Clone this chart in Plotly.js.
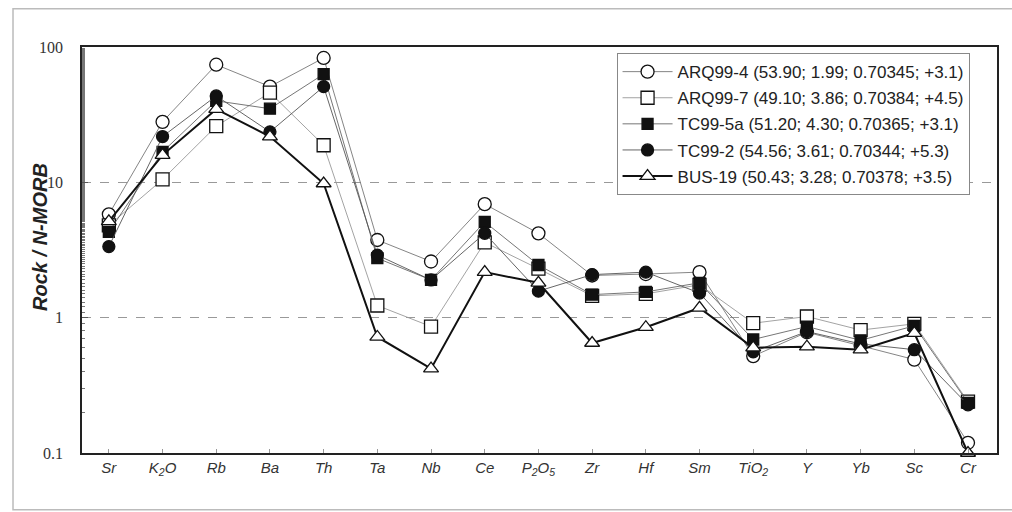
<!DOCTYPE html>
<html><head><meta charset="utf-8">
<script src="https://cdn.plot.ly/plotly-3.0.1.min.js"></script>
<style>html,body{margin:0;padding:0;background:#fff}#chart{width:1012px;height:512px}</style>
</head><body><div id="chart"></div>
<script>
const categories = ['Sr','K2O','Rb','Ba','Th','Ta','Nb','Ce','P2O5','Zr','Hf','Sm','TiO2','Y','Yb','Sc','Cr'];
const tickLabels = ['Sr','K<sub>2</sub>O','Rb','Ba','Th','Ta','Nb','Ce','P<sub>2</sub>O<sub>5</sub>','Zr','Hf','Sm','TiO<sub>2</sub>','Y','Yb','Sc','Cr'];
const seriesNames = [
  'ARQ99-4 (53.90; 1.99; 0.70345; +3.1)',
  'ARQ99-7 (49.10; 3.86; 0.70384; +4.5)',
  'TC99-5a (51.20; 4.30; 0.70365; +3.1)',
  'TC99-2 (54.56; 3.61; 0.70344; +5.3)',
  'BUS-19 (50.43; 3.28; 0.70378; +3.5)'
];
const arq99_4 = [5.8, 28, 74, 51, 83, 3.75, 2.6, 6.9, 4.2, 2.05, 2.1, 2.17, 0.52, 0.78, 0.62, 0.49, 0.119];
const arq99_7 = [4.8, 10.5, 26, 46, 18.8, 1.23, 0.86, 3.6, 2.3, 1.45, 1.5, 1.75, 0.91, 1.02, 0.81, 0.9, 0.24];
const tc99_5a = [4.3, 16.8, 40, 35, 63, 2.75, 1.9, 5.1, 2.45, 1.48, 1.55, 1.81, 0.69, 0.86, 0.68, 0.87, 0.235];
const tc99_2  = [3.35, 21.8, 43.5, 23.6, 51, 2.9, 1.9, 4.2, 1.57, 2.08, 2.17, 1.52, 0.56, 0.79, 0.64, 0.58, 0.227];
const bus_19  = [5.15, 15.9, 34.7, 21.8, 9.8, 0.72, 0.42, 2.17, 1.81, 0.65, 0.85, 1.18, 0.6, 0.61, 0.58, 0.77, 0.1];

const xIdx = categories.map((c,i)=>i);
function tr(name, y, sym, fill, lw, lc, size, g){
  return {x:xIdx, y:y, name:name, legendgroup:g, type:'scatter', mode:'lines+markers', cliponaxis:false,
    line:{color:lc, width:lw},
    marker:{symbol:sym, size:size, color:fill, line:{color:'#111', width:1.3}}};
}
const data = [
  tr(seriesNames[0], arq99_4, 'circle', '#fff', 0.9, '#777', 13, 'a'),
  tr(seriesNames[1], arq99_7, 'square', '#fff', 0.9, '#999', 13, 'b'),
  tr(seriesNames[2], tc99_5a, 'square', '#111', 0.9, '#666', 11, 'c'),
  tr(seriesNames[3], tc99_2, 'circle', '#111', 0.9, '#555', 12, 'd'),
  tr(seriesNames[4], bus_19, 'triangle-up', '#fff', 2, '#111', 13, 'e')
];
const layout = {
  width:1012, height:512,
  margin:{l:82, r:15, t:47, b:59},
  paper_bgcolor:'#fff', plot_bgcolor:'#fff',
  showlegend:true,
  legend:{x:0.97, y:0.985, xanchor:'right', yanchor:'top', bgcolor:'#fff',
    bordercolor:'#888', borderwidth:1, font:{family:'Liberation Sans, Arial', size:17, color:'#222'},
    tracegroupgap:1, itemwidth:50},
  xaxis:{range:[-0.5,16.54], tickvals:xIdx, ticktext:tickLabels.map(t=>'<i>'+t+'</i>'),
    showgrid:false, zeroline:false, showline:true, linecolor:'#222', linewidth:1.5, mirror:true,
    ticks:'inside', ticklen:4, tickcolor:'#999',
    tickfont:{family:'Liberation Sans, Arial', size:15, color:'#333'}},
  yaxis:{type:'log', range:[-1,2], tickvals:[0.1,1,10,100], ticktext:['0.1','1','10','100'],
    showgrid:true, gridcolor:'#999', griddash:'dash', gridwidth:1, zeroline:false,
    showline:true, linecolor:'#222', linewidth:1.5, mirror:true,
    ticks:'inside', ticklen:6, tickcolor:'#555', ticklabelstandoff:14,
    minor:{ticks:'inside', ticklen:3, tickcolor:'#777', showgrid:false},
    tickfont:{family:'Liberation Serif, Times New Roman', size:16, color:'#333'}},
  annotations:[{text:'<b><i>Rock / N-MORB</i></b>', xref:'paper', yref:'paper', x:-0.046, y:0.532,
    textangle:-90, showarrow:false, xanchor:'center', yanchor:'middle',
    font:{family:'Liberation Sans, Arial', size:20, color:'#222'}}],
  shapes:[{type:'rect', xref:'paper', yref:'paper', x0:-0.0754, x1:1.03, y0:-0.14, y1:1.094,
    line:{color:'#bbb', width:1.5}, fillcolor:'rgba(0,0,0,0)', layer:'below'}]
};
Plotly.newPlot('chart', data, layout, {displayModeBar:false});
</script></body></html>
